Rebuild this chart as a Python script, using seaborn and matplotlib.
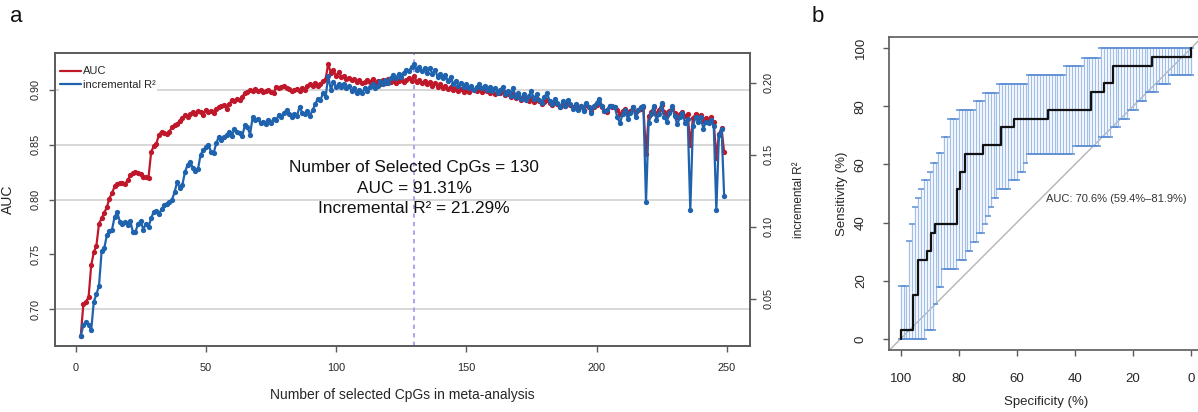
import numpy as np
import matplotlib
matplotlib.use("Agg")
import matplotlib.pyplot as plt
from matplotlib.lines import Line2D
import seaborn as sns

# ---- panel a: AUC / incremental R2 vs number of selected CpGs ----
n_cpgs = list(range(2, 250))

auc = [
    0.676, 0.705, 0.707, 0.711, 0.740, 0.752, 0.758, 0.778, 0.783, 0.788,
    0.793, 0.801, 0.806, 0.812, 0.814, 0.815, 0.815, 0.814, 0.818, 0.822,
    0.824, 0.825, 0.824, 0.823, 0.821, 0.821, 0.820, 0.843, 0.849, 0.851,
    0.859, 0.862, 0.861, 0.860, 0.862, 0.866, 0.868, 0.869, 0.872, 0.874,
    0.877, 0.875, 0.878, 0.880, 0.878, 0.881, 0.880, 0.877, 0.882, 0.880,
    0.881, 0.879, 0.883, 0.884, 0.885, 0.886, 0.883, 0.887, 0.891, 0.890,
    0.892, 0.891, 0.894, 0.897, 0.898, 0.900, 0.899, 0.901, 0.899, 0.900,
    0.898, 0.899, 0.900, 0.898, 0.897, 0.903, 0.902, 0.903, 0.904, 0.902,
    0.901, 0.899, 0.900, 0.901, 0.899, 0.902, 0.900, 0.904, 0.905, 0.904,
    0.906, 0.904, 0.905, 0.908, 0.910, 0.924, 0.915, 0.918, 0.913, 0.916,
    0.912, 0.913, 0.910, 0.911, 0.909, 0.910, 0.907, 0.909, 0.906, 0.907,
    0.909, 0.907, 0.910, 0.906, 0.908, 0.905, 0.909, 0.906, 0.910, 0.907,
    0.909, 0.906, 0.908, 0.910, 0.907, 0.909, 0.911, 0.908, 0.9131, 0.907,
    0.909, 0.906, 0.908, 0.905, 0.907, 0.904, 0.906, 0.903, 0.905, 0.902,
    0.904, 0.901, 0.903, 0.900, 0.902, 0.899, 0.901, 0.898, 0.900, 0.898,
    0.902, 0.900, 0.899, 0.902, 0.898, 0.900, 0.899, 0.897, 0.899, 0.896,
    0.898, 0.897, 0.899, 0.895, 0.896, 0.894, 0.896, 0.893, 0.895, 0.891,
    0.894, 0.892, 0.890, 0.893, 0.889, 0.892, 0.890, 0.887, 0.889, 0.891,
    0.888, 0.886, 0.889, 0.887, 0.884, 0.887, 0.885, 0.888, 0.886, 0.884,
    0.886, 0.883, 0.885, 0.882, 0.886, 0.884, 0.881, 0.884, 0.886, 0.888,
    0.884, 0.881, 0.880, 0.885, 0.884, 0.884, 0.882, 0.878, 0.881, 0.883,
    0.879, 0.881, 0.884, 0.880, 0.882, 0.883, 0.884, 0.842, 0.876, 0.880,
    0.884, 0.878, 0.882, 0.886, 0.880, 0.877, 0.881, 0.883, 0.879, 0.875,
    0.878, 0.880, 0.876, 0.878, 0.850, 0.874, 0.878, 0.875, 0.877, 0.872,
    0.874, 0.873, 0.875, 0.871, 0.838, 0.860, 0.865, 0.843,
]

inc_r2 = [
    0.0243, 0.0317, 0.034, 0.032, 0.028, 0.048, 0.053, 0.059, 0.083, 0.085,
    0.094, 0.097, 0.098, 0.107, 0.110, 0.1035, 0.102, 0.1035, 0.101, 0.104,
    0.0965, 0.0965, 0.102, 0.104, 0.098, 0.102, 0.100, 0.1058, 0.1104, 0.111,
    0.109, 0.112, 0.115, 0.116, 0.117, 0.1185, 0.124, 0.131, 0.127, 0.129,
    0.138, 0.143, 0.145, 0.141, 0.139, 0.140, 0.150, 0.153, 0.155, 0.157,
    0.152, 0.151, 0.158, 0.1625, 0.160, 0.162, 0.164, 0.166, 0.163, 0.168,
    0.166, 0.165, 0.163, 0.1706, 0.169, 0.164, 0.1764, 0.174, 0.175, 0.172,
    0.173, 0.171, 0.174, 0.172, 0.175, 0.174, 0.1776, 0.176, 0.179, 0.181,
    0.178, 0.176, 0.178, 0.177, 0.1833, 0.179, 0.178, 0.180, 0.177, 0.181,
    0.185, 0.189, 0.188, 0.1926, 0.190, 0.2047, 0.195, 0.2007, 0.197, 0.199,
    0.197, 0.199, 0.196, 0.198, 0.194, 0.196, 0.193, 0.195, 0.193, 0.196,
    0.194, 0.197, 0.199, 0.196, 0.198, 0.201, 0.199, 0.202, 0.200, 0.203,
    0.205, 0.203, 0.206, 0.204, 0.207, 0.209, 0.208, 0.211, 0.2129, 0.209,
    0.211, 0.208, 0.210, 0.207, 0.210, 0.206, 0.209, 0.204, 0.206, 0.203,
    0.205, 0.201, 0.204, 0.199, 0.201, 0.198, 0.200, 0.197, 0.199, 0.196,
    0.198, 0.195, 0.197, 0.199, 0.196, 0.198, 0.195, 0.197, 0.194, 0.196,
    0.193, 0.195, 0.197, 0.192, 0.194, 0.191, 0.196, 0.190, 0.193, 0.189,
    0.192, 0.188, 0.191, 0.194, 0.189, 0.192, 0.188, 0.186, 0.190, 0.193,
    0.187, 0.185, 0.189, 0.186, 0.183, 0.187, 0.184, 0.188, 0.185, 0.182,
    0.185, 0.181, 0.184, 0.180, 0.186, 0.183, 0.179, 0.184, 0.186, 0.189,
    0.184, 0.180, 0.181, 0.184, 0.184, 0.183, 0.176, 0.172, 0.178, 0.181,
    0.175, 0.179, 0.183, 0.176, 0.181, 0.183, 0.184, 0.117, 0.172, 0.178,
    0.184, 0.174, 0.178, 0.186, 0.176, 0.173, 0.179, 0.184, 0.177, 0.171,
    0.176, 0.179, 0.172, 0.175, 0.1116, 0.170, 0.176, 0.173, 0.176, 0.168,
    0.173, 0.172, 0.174, 0.170, 0.1116, 0.164, 0.168, 0.121,
]

selected_n = 130
grid_levels = [0.70, 0.80, 0.85, 0.90]
auc_ticks = [0.70, 0.75, 0.80, 0.85, 0.90]
r2_ticks = [0.05, 0.10, 0.15, 0.20]
x_ticks = [0, 50, 100, 150, 200, 250]

# ---- panel b: ROC curve with sensitivity CI bars ----
roc_spec = [100, 95.6, 93.9, 91.0, 89.6, 88.2, 80.5, 79.6, 77.9, 71.5,
            65.6, 60.9, 49.2, 34.3, 29.9, 26.8, 13.6, 0]
roc_sens = [3.03, 15.15, 27.27, 30.30, 36.36, 39.39, 51.52, 57.58, 63.64, 66.67,
            72.73, 75.76, 78.79, 84.85, 87.88, 93.94, 96.97, 100]

ci_spec = list(range(100, -1, -1))
ci_upper = [
    18.3, 18.3, 18.3, 33.5, 39.5, 45.5, 48.4, 51.5, 54.7, 54.7,
    57.5, 60.4, 60.4, 63.8, 63.8, 69.5, 69.5, 75.8, 75.8, 75.8,
    78.9, 78.9, 78.9, 78.9, 78.9, 78.9, 81.9, 81.9, 81.9, 84.7,
    84.7, 84.7, 84.7, 84.7, 87.8, 87.8, 87.8, 87.8, 87.8, 87.8,
    87.8, 87.8, 87.8, 87.8, 90.7, 90.7, 90.7, 90.7, 90.7, 90.7,
    90.7, 90.7, 90.7, 90.7, 90.7, 90.7, 90.7, 93.8, 93.8, 93.8,
    93.8, 93.8, 93.8, 96.7, 96.7, 96.7, 96.7, 96.7, 96.7, 100,
    100, 100, 100, 100, 100, 100, 100, 100, 100, 100,
    100, 100, 100, 100, 100, 100, 100, 100, 100, 100,
    100, 100, 100, 100, 100, 100, 100, 100, 100, 100,
    100,
]
ci_lower = [
    0, 0, 0, 0, 0, 0, 0, 0, 0, 3.2,
    3.2, 3.2, 12.0, 18.0, 18.0, 24.0, 24.0, 24.0, 24.0, 24.0,
    27.2, 27.2, 27.2, 30.3, 30.3, 33.2, 33.2, 36.4, 36.4, 39.4,
    42.4, 45.5, 48.4, 48.4, 51.5, 51.5, 51.5, 51.5, 54.7, 54.7,
    54.7, 57.3, 57.3, 60.4, 63.5, 63.5, 63.5, 63.5, 63.5, 63.5,
    63.5, 63.5, 63.5, 63.5, 63.5, 63.5, 63.5, 63.5, 63.5, 63.5,
    66.4, 66.4, 66.4, 66.4, 66.4, 66.4, 66.4, 66.4, 66.4, 69.5,
    69.5, 69.5, 69.5, 73.0, 73.0, 73.0, 75.8, 75.8, 75.8, 78.9,
    78.9, 78.9, 81.9, 81.9, 81.9, 85.0, 85.0, 85.0, 85.0, 87.8,
    87.8, 87.8, 87.8, 90.7, 90.7, 90.7, 90.7, 90.7, 90.7, 90.7,
    90.7,
]
pct_ticks = [0, 20, 40, 60, 80, 100]

red = "#C0182B"
blue = "#1F63AE"
frame = "#5a5a5a"
txt = "#262626"

sns.set_theme(style="ticks")
plt.rcParams["font.family"] = ["Liberation Sans", "DejaVu Sans"]
plt.rcParams["axes.edgecolor"] = frame
plt.rcParams["axes.linewidth"] = 1.2

fig = plt.figure(figsize=(11.98, 4.12), dpi=100)

# panel a
ax = fig.add_axes([0.0459, 0.1602, 0.5801, 0.7112])
ax2 = ax.twinx()

for g in grid_levels:
    ax.axhline(g, color="#d4d4d4", lw=1.3, zorder=0)
ax.axvline(selected_n, color="#a5a5f2", lw=1.4, ls=(0, (2.2, 2.2)), zorder=1)

sns.lineplot(x=n_cpgs, y=auc, ax=ax, color=red, marker="o", markersize=3.8,
             markeredgewidth=0, linewidth=1.6, sort=False, estimator=None, zorder=3)
sns.lineplot(x=n_cpgs, y=inc_r2, ax=ax2, color=blue, marker="o", markersize=3.8,
             markeredgewidth=0, linewidth=1.6, sort=False, estimator=None, zorder=3)

ax.set_xlim(-7.9, 258.9)
ax.set_ylim(0.6665, 0.9337)
ax2.set_ylim(0.0172, 0.2206)

ax.set_xticks(x_ticks)
ax.set_yticks(auc_ticks)
ax.set_yticklabels([f"{v:.2f}" for v in auc_ticks])
ax2.set_yticks(r2_ticks)
ax2.set_yticklabels([f"{v:.2f}" for v in r2_ticks])

ax.tick_params(axis="x", labelsize=7.8, length=4, width=1, pad=8, colors=frame, labelcolor=txt)
ax.tick_params(axis="y", labelsize=7.8, length=4, width=1, pad=6, colors=frame,
               labelcolor=txt, labelrotation=90)
ax2.tick_params(axis="y", labelsize=7.8, length=4, width=1, pad=6, colors=frame,
                labelcolor=txt, labelrotation=90)
for lbl in ax.get_yticklabels() + ax2.get_yticklabels():
    lbl.set_va("center")
for sp in ax2.spines.values():
    sp.set_color(frame)

ax.set_xlabel("Number of selected CpGs in meta-analysis", fontsize=10, color=txt)
ax.xaxis.set_label_coords(0.5, -0.167)
ax.xaxis.label.set_va("center")
ax.set_ylabel("AUC", fontsize=10, color=txt)
ax.yaxis.set_label_coords(-0.068, 0.5)
ax.yaxis.label.set_va("center")
ax2.set_ylabel("incremental R\u00b2", fontsize=8.5, color=txt)
ax2.yaxis.set_label_coords(1.0705, 0.5)
ax2.yaxis.label.set_va("center")

ax.text(selected_n, 0.825, f"Number of Selected CpGs = {selected_n}", ha="center",
        va="baseline", fontsize=12.4, color="#111111", zorder=5)
ax.text(selected_n, 0.806, "AUC = 91.31%", ha="center", va="baseline",
        fontsize=12.4, color="#111111", zorder=5)
ax.text(selected_n, 0.7875, "Incremental R\u00b2 = 21.29%", ha="center", va="baseline",
        fontsize=12.4, color="#111111", zorder=5)

handles = [Line2D([0], [0], color=red, lw=1.6), Line2D([0], [0], color=blue, lw=1.6)]
leg = ax2.legend(handles, ["AUC", "incremental R\u00b2"], loc="upper left",
                 bbox_to_anchor=(0.006, 0.958), frameon=True, fancybox=False,
                 facecolor="white", edgecolor="none", framealpha=1, fontsize=8,
                 handlelength=1.9, handletextpad=0.15, labelspacing=0.35,
                 borderpad=0.1, borderaxespad=0)
for t in leg.get_texts():
    t.set_color(txt)

# panel b
axb = fig.add_axes([0.7421, 0.1493, 0.2618, 0.7619])
axb.set_xlim(104, -4)
axb.set_ylim(-4, 104)
axb.axline((100, 0), (0, 100), color="#b5b5b5", lw=1, zorder=1)

spec = np.array(ci_spec, dtype=float)
axb.vlines(spec, ci_lower, ci_upper, color="#9fbfe9", lw=0.9, zorder=2)
axb.hlines(ci_upper, spec - 1.0, spec + 1.0, color="#5d8fd4", lw=1.1, zorder=2)
axb.hlines(ci_lower, spec - 1.0, spec + 1.0, color="#5d8fd4", lw=1.1, zorder=2)

sns.lineplot(x=[100] + roc_spec, y=[0] + roc_sens, ax=axb, color="#111111",
             linewidth=1.6, drawstyle="steps-post", sort=False, estimator=None, zorder=4)

axb.text(50, 50, "AUC: 70.6% (59.4%\u201381.9%)", ha="left", va="top", fontsize=8, color="#333333")

axb.set_xticks(pct_ticks)
axb.set_yticks(pct_ticks)
axb.tick_params(axis="x", labelsize=9.5, length=4, width=1, pad=12, colors=frame, labelcolor=txt)
axb.tick_params(axis="y", labelsize=9.5, length=4, width=1, pad=12, colors=frame,
                labelcolor=txt, labelrotation=90)
for lbl in axb.get_yticklabels():
    lbl.set_va("center")
axb.set_xlabel("Specificity (%)", fontsize=9.5, color=txt)
axb.xaxis.set_label_coords(0.5, -0.163)
axb.xaxis.label.set_va("center")
axb.set_ylabel("Sensitivity (%)", fontsize=9.5, color=txt)
axb.yaxis.set_label_coords(-0.15, 0.5)
axb.yaxis.label.set_va("center")

fig.text(0.0083, 0.9466, "a", fontsize=16, ha="left", va="baseline", color="#111111")
fig.text(0.6775, 0.9466, "b", fontsize=16, ha="left", va="baseline", color="#111111")

fig.savefig("out.png", dpi=100)
